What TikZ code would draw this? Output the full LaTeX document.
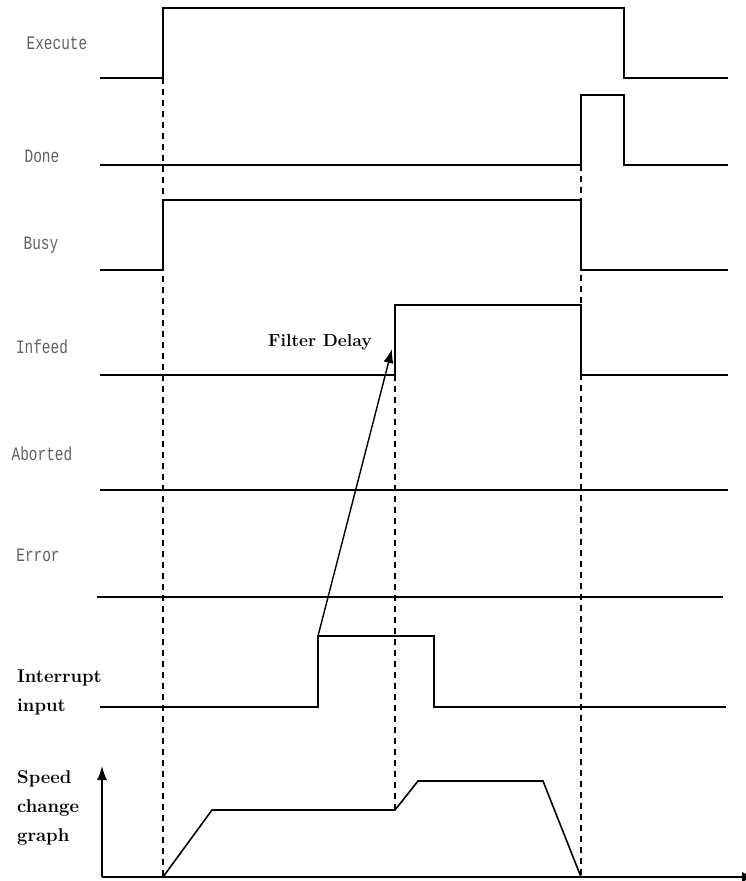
\documentclass[tikz,border=0pt]{standalone}
\usepackage{fontspec}
\newfontfamily\sigfont{Liberation Mono}
\usetikzlibrary{arrows.meta}

\begin{document}
\begin{tikzpicture}[x=1pt, y=-1pt,
    wave/.style={line width=1.6pt},
    guide/.style={line width=1.2pt, dash pattern=on 6pt off 5pt},
    siglabel/.style={font=\sigfont\fontsize{19}{22}\selectfont, xscale=0.76, text=black!62, inner sep=0pt},
    note/.style={font=\fontsize{18.5}{29}\selectfont\bfseries, align=left, inner sep=0pt},
    arrow/.style={-{Latex[length=14pt,width=10pt]}, line width=1.4pt}]
  \useasboundingbox (0,0) rectangle (745,881);
  % signal names
  \node[siglabel] (execute) at (57,43) {Execute};
  \node[siglabel] (done) at (42,156) {Done};
  \node[siglabel] (busy) at (41,245) {Busy};
  \node[siglabel] (infeed) at (42,347) {Infeed};
  \node[siglabel] (aborted) at (42,454) {Aborted};
  \node[siglabel] (error) at (38,555) {Error};
  \node[note, anchor=west] (interrupt) at (17,692) {Interrupt\\input};
  \node[note, anchor=west] (speed) at (17,808) {Speed\\change\\graph};
  \node[note, font=\fontsize{17.5}{22}\selectfont\bfseries] (filter) at (320,342) {Filter Delay};
  % waveforms
  \draw[wave] (100,78) -- (163,78) -- (163,8) -- (624,8) -- (624,78) -- (728,78);
  \draw[wave] (100,165) -- (581,165) -- (581,95) -- (624,95) -- (624,165) -- (728,165);
  \draw[wave] (100,270) -- (163,270) -- (163,200) -- (581,200) -- (581,270) -- (728,270);
  \draw[wave] (100,375) -- (395,375) -- (395,305) -- (581,305) -- (581,375) -- (728,375);
  \draw[wave] (100,490) -- (728,490);
  \draw[wave] (97,597) -- (723,597);
  \draw[wave] (100,707) -- (318,707) -- (318,636) -- (434,636) -- (434,707) -- (726,707);
  % guide lines
  \draw[guide] (163,78) -- (163,877);
  \draw[guide] (395,375) -- (395,810);
  \draw[guide] (581,165) -- (581,877);
  % filter delay
  \coordinate (irq) at (318,636);
  \coordinate (feed) at (392,349);
  \draw[arrow] (irq) -- (feed);
  % speed graph
  \draw[arrow] (102,877) -- (102,766);
  \draw[arrow] (102,877) -- (756,877);
  \draw[wave] (163,877) -- (212,810) -- (395,810) -- (418,781) -- (543,781) -- (581,877);
\end{tikzpicture}
\end{document}
